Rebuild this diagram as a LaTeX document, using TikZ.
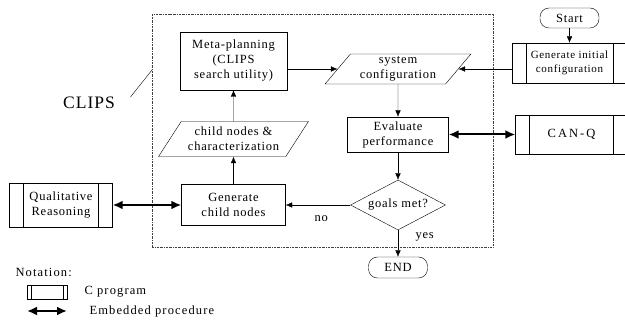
\documentclass[tikz,border=0pt]{standalone}
\usepackage{fontspec}
\setmainfont[LetterSpace=6]{Liberation Serif}
\usepackage{tikz}
\usetikzlibrary{arrows.meta,positioning,shapes.geometric}

\newcommand\boxfont{\fontsize{12.5}{15}\selectfont}
\newcommand\smallboxfont{\fontsize{11}{14}\selectfont}
\newcommand\legfont{\fontsize{12.5}{15}\selectfont\addfontfeature{LetterSpace=9}}

\tikzset{
  proc/.style={draw, rectangle, align=center, inner sep=1pt, font=\boxfont},
  data/.style={draw, trapezium, trapezium left angle=52, trapezium right angle=128,
    trapezium stretches=true, align=center, inner sep=1pt, font=\boxfont},
  test/.style={draw, diamond, aspect=1.9, inner sep=0pt, font=\boxfont},
  term/.style={draw, rectangle, rounded corners=9pt, inner sep=1pt, font=\boxfont},
  cprog/.style={proc, path picture={
      \draw ([xshift=#1]path picture bounding box.north west) -- ([xshift=#1]path picture bounding box.south west);
      \draw ([xshift=-#1]path picture bounding box.north east) -- ([xshift=-#1]path picture bounding box.south east);}},
  cprog/.default=14pt,
  clipsbox/.style={draw=black!75, line width=0.4pt, dash pattern=on 2pt off 1pt on 0.5pt off 1pt},
  flow/.style={-{Latex[length=6.5pt,width=5.5pt]}},
  embed/.style={{Latex[length=10pt,width=9pt]}-{Latex[length=10pt,width=9pt]}, line width=2pt},
}

\begin{document}
\begin{tikzpicture}[node distance=60pt, on grid, font=\boxfont]
\useasboundingbox (0,0) rectangle (625pt,-323pt);

% the CLIPS part
\node[clipsbox, minimum width=341pt, minimum height=233pt] (clips) at (322.5pt,-130.5pt) {};
\node[font=\fontsize{17.5}{20}\selectfont] (clipslbl) at (89pt,-103pt) {CLIPS};
\coordinate (tip) at (152pt,-70pt);
\draw ([shift={(12pt,6pt)}]clipslbl.east) -- (tip);

\node[data, minimum width=146pt, minimum height=30pt] (sys) at (398pt,-69pt) {system\\configuration};
\node[proc, minimum width=101pt, minimum height=35pt, below=65.5pt of sys] (eval) {Evaluate\\performance};
\node[test, minimum width=95pt, minimum height=50pt, below=70.5pt of eval] (goals) {goals met?};
\node[term, minimum width=59pt, minimum height=21pt, below=62.5pt of goals] (stop) {END};
\node[proc, minimum width=104pt, minimum height=41pt, left=164.5pt of goals] (gen) {Generate\\child nodes};
\node[data, minimum width=150pt, minimum height=35pt, above=66pt of gen] (child) {child nodes \&\\characterization};
\node[proc, minimum width=107pt, minimum height=58pt, above=78pt of child] (meta) {Meta-planning\\(CLIPS\\search utility)};

% C programs
\node[cprog, minimum width=103pt, minimum height=44pt, left=172.5pt of gen] (qual) {Qualitative\\Reasoning};
\node[cprog, minimum width=115pt, minimum height=40pt, font=\smallboxfont, above right=6pt and 171.5pt of sys] (init) {Generate initial\\configuration};
\node[term, minimum width=59pt, minimum height=20pt, above=45pt of init] (start) {Start};
\node[cprog, minimum width=112pt, minimum height=39pt, right=173.5pt of eval] (canq) {\addfontfeature{LetterSpace=16}CAN-Q};

\draw[flow] (meta.east |- sys.west) -- (sys.west);
\draw[flow] (init.west |- sys.east) -- (sys.east);
\draw[flow] (start) -- (init);
\draw[flow] (sys) -- (eval);
\draw[flow] (eval) -- (goals);
\draw[flow] (goals) -- node[below=7pt, pos=0.45] {no} (gen);
\draw[flow] (goals) -- node[right=14pt, pos=0.25] {yes} (stop);
\draw[flow] (gen) -- (child);
\draw[flow] (child) -- (meta);
\draw[embed] (eval) -- (canq);
\draw[embed] (qual) -- (gen);

% notation
\node[anchor=west, font=\legfont] (notation) at (12pt,-272pt) {Notation:};
\node[cprog=4pt, minimum width=40pt, minimum height=14pt] (legbox) at (47pt,-292pt) {};
\node[anchor=west, font=\legfont] (cproglbl) at (81pt,-292pt) {C program};
\coordinate (arrL) at (27pt,-311pt);
\coordinate (arrR) at (67pt,-311pt);
\draw[embed] (arrL) -- (arrR);
\node[anchor=west, font=\legfont] (embedlbl) at (86pt,-311pt) {Embedded procedure};
\end{tikzpicture}
\end{document}
